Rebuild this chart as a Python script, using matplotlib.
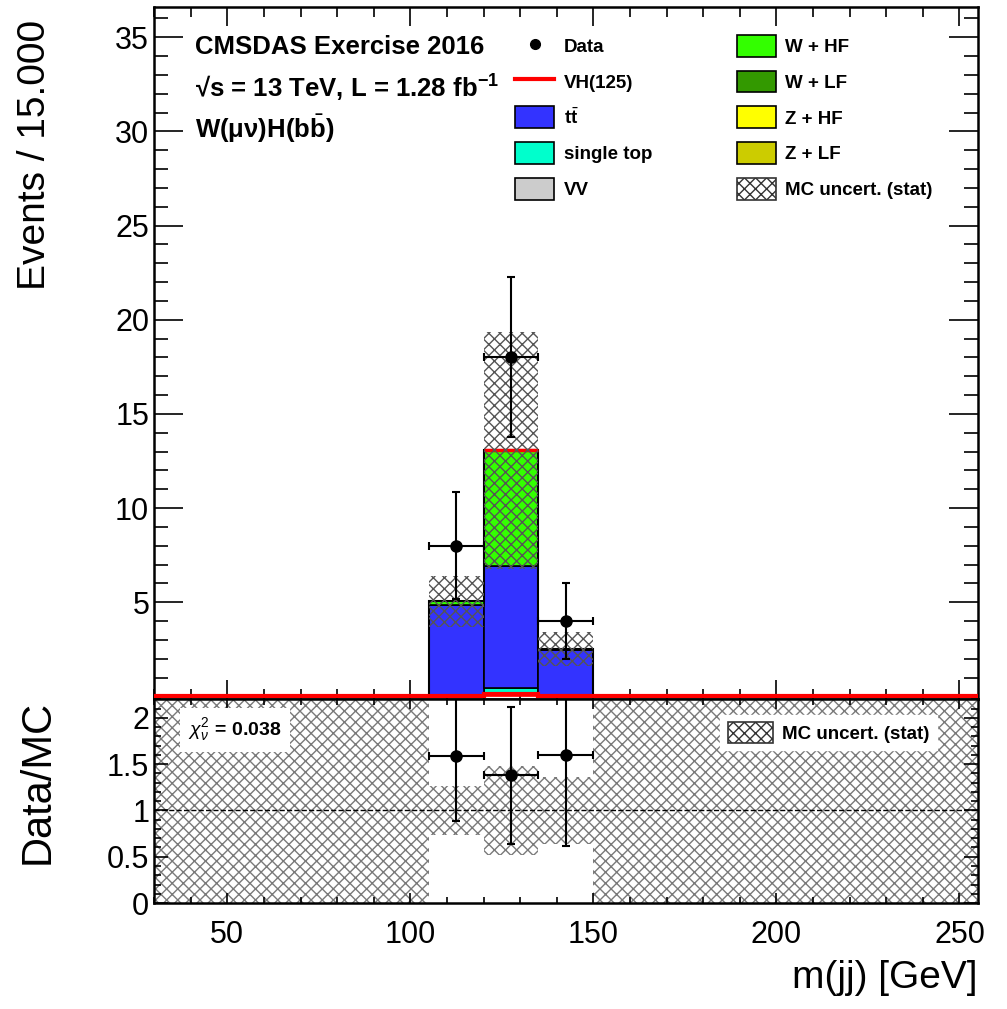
import numpy as np
import matplotlib
matplotlib.use("Agg")
import matplotlib.pyplot as plt
from matplotlib.lines import Line2D
from matplotlib.patches import Patch
from matplotlib.ticker import MultipleLocator

# ---------------------------------------------
# Style
# ---------------------------------------------
plt.rcParams['font.family'] = ['Liberation Sans', 'DejaVu Sans']
plt.rcParams['mathtext.fontset'] = 'custom'
plt.rcParams['mathtext.rm'] = 'Liberation Sans'
plt.rcParams['mathtext.bf'] = 'Liberation Sans:bold'
plt.rcParams['mathtext.it'] = 'Liberation Sans:italic'
plt.rcParams['mathtext.sf'] = 'Liberation Sans'
plt.rcParams['hatch.linewidth'] = 1.0
NARROW = ['Liberation Sans Narrow', 'Liberation Sans']

# ---------------------------------------------
# Data (m(jj) bins of 15 GeV from 30 to 255)
# ---------------------------------------------
bin_edges  = np.arange(30, 256, 15)
data_count = np.array([0, 0, 0, 0, 0, 8, 18, 4, 0, 0, 0, 0, 0, 0, 0], dtype=float)

vh125      = np.array([0, 0, 0, 0, 0, 0.00, 0.15, 0.00, 0, 0, 0, 0, 0, 0, 0])
single_top = np.array([0, 0, 0, 0, 0, 0.00, 0.30, 0.00, 0, 0, 0, 0, 0, 0, 0])
ttbar      = np.array([0, 0, 0, 0, 0, 4.85, 6.45, 2.48, 0, 0, 0, 0, 0, 0, 0])
vv         = np.zeros(15)
w_hf       = np.array([0, 0, 0, 0, 0, 0.20, 6.17, 0.02, 0, 0, 0, 0, 0, 0, 0])
w_lf       = np.zeros(15)
z_hf       = np.zeros(15)
z_lf       = np.zeros(15)
mc_stat    = np.array([0, 0, 0, 0, 0, 1.35, 6.30, 0.90, 0, 0, 0, 0, 0, 0, 0])

chi2_ndf = 0.038

stack = [
    (vh125,      '#ff0000', 'VH(125)'),
    (single_top, '#00ffcc', 'single top'),
    (ttbar,      '#3333ff', r't$\bar{\mathbf{t}}$'),
    (vv,         '#cccccc', 'VV'),
    (w_hf,       '#33ff00', 'W + HF'),
    (w_lf,       '#339900', 'W + LF'),
    (z_hf,       '#ffff00', 'Z + HF'),
    (z_lf,       '#cccc00', 'Z + LF'),
]

centers = 0.5 * (bin_edges[:-1] + bin_edges[1:])
width   = np.diff(bin_edges)

# ---------------------------------------------
# Figure and pads
# ---------------------------------------------
fig = plt.figure(figsize=(10.07, 10.09), dpi=100)
ax  = fig.add_axes([0.153, 0.307, 0.818, 0.686])
axr = fig.add_axes([0.153, 0.105, 0.818, 0.202], sharex=ax)

# ---- stacked MC ----
cum = np.zeros(15)
for vals, col, lab in stack:
    m = vals > 0
    if m.any():
        ec = 'red' if lab == 'VH(125)' else 'black'
        ax.bar(centers[m], vals[m], width=width[m], bottom=cum[m],
               color=col, edgecolor=ec, linewidth=1.2, zorder=2)
    cum = cum + vals
total = cum

ax.stairs(total, bin_edges, color='black', linewidth=1.5, zorder=3)
ax.stairs(vh125, bin_edges, color='red', linewidth=3, zorder=4)
sig = vh125 > 0
ax.hlines(total[sig], bin_edges[:-1][sig], bin_edges[1:][sig],
          color='red', linewidth=2.5, zorder=4)

# ---- MC stat uncertainty ----
m = total > 0
ax.bar(centers[m], 2 * mc_stat[m], width=width[m], bottom=total[m] - mc_stat[m],
       fill=False, hatch='xxx', edgecolor='#555555', linewidth=0, zorder=5)

# ---- data ----
d = data_count > 0
ax.errorbar(centers[d], data_count[d], xerr=width[d] / 2, yerr=np.sqrt(data_count[d]),
            fmt='o', color='black', markersize=8, linewidth=1.5,
            capsize=3, capthick=1.5, zorder=6)

ax.set_xlim(30, 255)
ax.set_ylim(-0.15, 36.6)
ax.set_yticks(range(5, 36, 5))
ax.yaxis.set_minor_locator(MultipleLocator(1))
ax.xaxis.set_major_locator(MultipleLocator(50))
ax.xaxis.set_minor_locator(MultipleLocator(10))
ax.tick_params(axis='both', which='both', direction='in', top=True, right=True,
               labelsize=22, width=1.2)
ax.tick_params(axis='y', which='major', length=21)
ax.tick_params(axis='y', which='minor', length=10)
ax.tick_params(axis='x', which='major', length=14)
ax.tick_params(axis='x', which='minor', length=7)
ax.tick_params(axis='x', labelbottom=False)
for s in ax.spines.values():
    s.set_linewidth(1.8)

# ---- labels inside main pad ----
ax.text(0.05, 0.942, 'CMSDAS Exercise 2016', transform=ax.transAxes,
        fontsize=18.5, fontweight='bold', va='center')
ax.text(0.05, 0.883, '\u221As = 13 TeV, L = 1.28 fb$^{\\mathbf{-1}}$',
        transform=ax.transAxes, fontsize=18.5, fontweight='bold', va='center')
ax.text(0.05, 0.825, 'W(\u03bc\u03bd)H(b$\\bar{\\mathbf{b}}$)', transform=ax.transAxes,
        fontsize=18.5, fontweight='bold', va='center')

handles = [
    Line2D([], [], marker='o', color='black', linestyle='none', markersize=7),
    Line2D([], [], color='red', linewidth=3),
    Patch(facecolor='#3333ff', edgecolor='black', linewidth=1.2),
    Patch(facecolor='#00ffcc', edgecolor='black', linewidth=1.2),
    Patch(facecolor='#cccccc', edgecolor='black', linewidth=1.2),
    Patch(facecolor='#33ff00', edgecolor='black', linewidth=1.2),
    Patch(facecolor='#339900', edgecolor='black', linewidth=1.2),
    Patch(facecolor='#ffff00', edgecolor='black', linewidth=1.2),
    Patch(facecolor='#cccc00', edgecolor='black', linewidth=1.2),
    Patch(facecolor='white', edgecolor='#333333', hatch='xxx', linewidth=1.2),
]
labels = ['Data', 'VH(125)', r't$\bar{\mathbf{t}}$', 'single top', 'VV',
          'W + HF', 'W + LF', 'Z + HF', 'Z + LF', 'MC uncert. (stat)']
ax.legend(handles, labels, ncol=2, loc='upper left',
          bbox_to_anchor=(515 / 1007, 1 - 35 / 1009), bbox_transform=fig.transFigure,
          frameon=False, prop={'weight': 'bold', 'size': 13.5},
          handlelength=2.1, handleheight=1.4, labelspacing=0.75,
          handletextpad=0.5, columnspacing=4.5, borderpad=0, borderaxespad=0)

# ---------------------------------------------
# Ratio pad
# ---------------------------------------------
rel = np.where(total > 0, mc_stat / np.where(total > 0, total, 1), 0)
band_lo = np.where(total > 0, 1 - rel, 0.0)
band_hi = np.where(total > 0, 1 + rel, 3.0)
axr.bar(centers, band_hi - band_lo, width=width, bottom=band_lo,
        fill=False, hatch='xxx', edgecolor='#7a7a7a', linewidth=0, zorder=1)
axr.axhline(1, linestyle='--', color='black', linewidth=1, zorder=2)

ratio = data_count[m] / total[m]
ratio_err = ratio * np.sqrt(1 / data_count[m] + rel[m] ** 2)
axr.errorbar(centers[m], ratio, xerr=width[m] / 2, yerr=ratio_err,
             fmt='o', color='black', markersize=8, linewidth=1.5,
             capsize=3, capthick=1.5, zorder=6)

axr.set_ylim(0, 2.2)
axr.set_yticks([0, 0.5, 1, 1.5, 2])
axr.set_yticklabels(['0', '0.5', '1', '1.5', '2'])
axr.yaxis.set_minor_locator(MultipleLocator(0.1))
axr.tick_params(axis='both', which='both', direction='in', top=True, right=True,
                labelsize=22, width=1.2)
axr.tick_params(axis='y', which='major', length=10)
axr.tick_params(axis='y', which='minor', length=5)
axr.tick_params(axis='x', which='major', length=7)
axr.tick_params(axis='x', which='minor', length=4)
axr.tick_params(axis='x', pad=12)
for s in axr.spines.values():
    s.set_linewidth(1.8)

axr.text(0.098, 0.85, r'$\chi^{2}_{\nu}$ = %.3f' % chi2_ndf, transform=axr.transAxes,
         fontsize=14, fontweight='bold', ha='center', va='center', zorder=7,
         bbox=dict(facecolor='white', edgecolor='none', pad=6))
axr.legend([Patch(facecolor='white', edgecolor='#333333', hatch='xxx', linewidth=1.2)],
           ['MC uncert. (stat)'], loc='upper right', bbox_to_anchor=(0.962, 0.97),
           frameon=True, fancybox=False, edgecolor='white', framealpha=1,
           prop={'size': 13.5, 'weight': 'bold'}, handlelength=2.4, handleheight=1.3,
           handletextpad=0.5, borderpad=0.4)

# ---------------------------------------------
# Axis titles
# ---------------------------------------------
fig.text(0.035, 0.980, 'Events / 15.000', rotation=90, ha='center', va='top',
         fontsize=28, family=NARROW)
fig.text(0.037, 0.306, 'Data/MC', rotation=90, ha='center', va='top',
         fontsize=30, family=NARROW)
fig.text(0.971, 0.021, 'm(jj) [GeV]', ha='right', va='baseline',
         fontsize=28, family=NARROW)

fig.savefig('out.png', dpi=100)
